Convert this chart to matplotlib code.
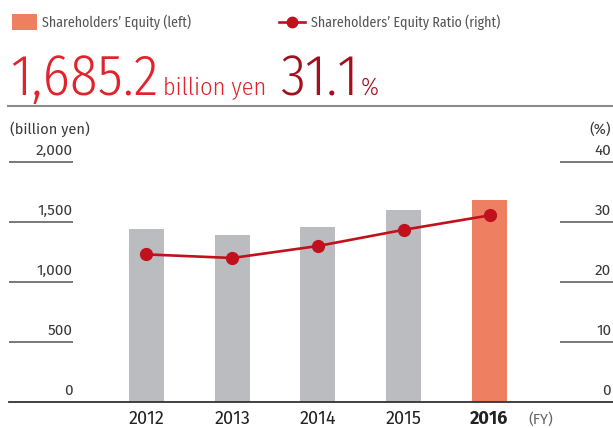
import matplotlib
matplotlib.use("Agg")
import matplotlib.pyplot as plt
from matplotlib.patches import Rectangle
from matplotlib.lines import Line2D

# data
years = ["2012", "2013", "2014", "2015", "2016"]
equity = [1442, 1392, 1458, 1600, 1685.2]      # billion yen (left)
ratio = [24.6, 24.0, 26.0, 28.7, 31.1]          # % (right)
left_ticks = [0, 500, 1000, 1500, 2000]
right_ticks = [0, 10, 20, 30, 40]

COND = ["Fira Sans Condensed", "DejaVu Sans"]
REG = ["Fira Sans", "DejaVu Sans"]
plt.rcParams["font.family"] = REG

W, H = 613, 428
GRAY_BAR = "#bbbcc0"
ORANGE = "#ee8061"
LINE_RED = "#c0111d"
RED = "#e2232b"
DARK_RED = "#a50f1b"
TXT = "#3a3a3a"


def fx(px):
    return px / W


def fy(py):
    return 1 - py / H


fig = plt.figure(figsize=(W / 100, H / 100), dpi=100)

# axes: x from 9px to 613px, y 0 at 402px, 2000 at 162px
ax = fig.add_axes([fx(9), fy(402), fx(613 - 9), (402 - 162) / H])
ax2 = ax.twinx()

x = list(range(len(years)))
colors = [GRAY_BAR] * (len(years) - 1) + [ORANGE]
ax.bar(x, equity, width=0.408, color=colors, zorder=2)
ax.set_xlim(-1.603, 5.44)
ax.set_ylim(0, 2000)
ax2.set_ylim(0, 40)
ax2.plot(x, ratio, color=LINE_RED, lw=1.9, marker="o", ms=8.5, zorder=3)

for a in (ax, ax2):
    for s in a.spines.values():
        s.set_visible(False)
    a.set_xticks([])
    a.set_yticks([])
    a.patch.set_visible(False)

# short tick segments and labels
tl = ax.get_yaxis_transform()
for v in left_ticks:
    if v > 0:
        ax.hlines(v, 0, 0.106, transform=tl, color="#555555", lw=1.1, clip_on=False)
    ax.annotate(f"{v:,}", (0.105, v), xycoords=tl, xytext=(0, 3), textcoords="offset points",
                ha="right", va="bottom", fontsize=11, color=TXT)
tr = ax2.get_yaxis_transform()
for v in right_ticks:
    if v > 0:
        ax2.hlines(v, 0.912, 1.0, transform=tr, color="#555555", lw=1.1, clip_on=False)
    ax2.annotate(f"{v}", (0.997, v), xycoords=tr, xytext=(0, 3), textcoords="offset points",
                 ha="right", va="bottom", fontsize=11, color=TXT)
ax.axhline(0, color="#333333", lw=1.3, zorder=4, clip_on=False)

# year labels
for i, y in enumerate(years):
    ax.text(i, -17 / 240, y, transform=ax.get_xaxis_transform(), ha="center", va="center",
            fontsize=13, color="#222222",
            fontweight="bold" if i == len(years) - 1 else "normal")
fig.text(fx(528), fy(419), "(FY)", ha="left", va="center", fontsize=10.5, color="#666666")

# axis titles
fig.text(fx(10), fy(129), "(billion yen)", ha="left", va="center", fontsize=10.5, color=TXT)
fig.text(fx(611), fy(129), "(%)", ha="right", va="center", fontsize=10.5, color=TXT)

# legend
fig.add_artist(Rectangle((fx(12), fy(30)), fx(25), 16 / H, transform=fig.transFigure,
                         color=ORANGE, lw=0))
fig.text(fx(42), fy(22), "Shareholders\u2019 Equity (left)", ha="left", va="center",
         fontsize=10, color="#555555", family=COND)
fig.add_artist(Line2D([fx(279), fx(305)], [fy(22), fy(22)], transform=fig.transFigure,
                      color=LINE_RED, lw=1.9))
fig.add_artist(Line2D([fx(292)], [fy(22)], transform=fig.transFigure, color=LINE_RED,
                      marker="o", ms=7.5, lw=0))
fig.text(fx(311), fy(22), "Shareholders\u2019 Equity Ratio (right)", ha="left", va="center",
         fontsize=10, color="#555555", family=COND)

# headline figures
fig.text(fx(10), fy(95), f"{equity[-1]:,.1f}", ha="left", va="baseline", fontsize=41,
         color=RED, family=COND, fontweight=350)
fig.text(fx(163), fy(95), "billion yen", ha="left", va="baseline", fontsize=17.5, color=RED,
         family=COND, fontweight=350)
fig.text(fx(280), fy(95), f"{ratio[-1]:.1f}", ha="left", va="baseline", fontsize=41,
         color=DARK_RED, family=COND, fontweight=350)
fig.text(fx(361), fy(95), "%", ha="left", va="baseline", fontsize=18, color=DARK_RED,
         family=COND, fontweight=350)
fig.add_artist(Line2D([fx(8), fx(613)], [fy(105.5), fy(105.5)], transform=fig.transFigure,
                      color="#8c8c8c", lw=1.5))

fig.savefig("out.png", dpi=100)
